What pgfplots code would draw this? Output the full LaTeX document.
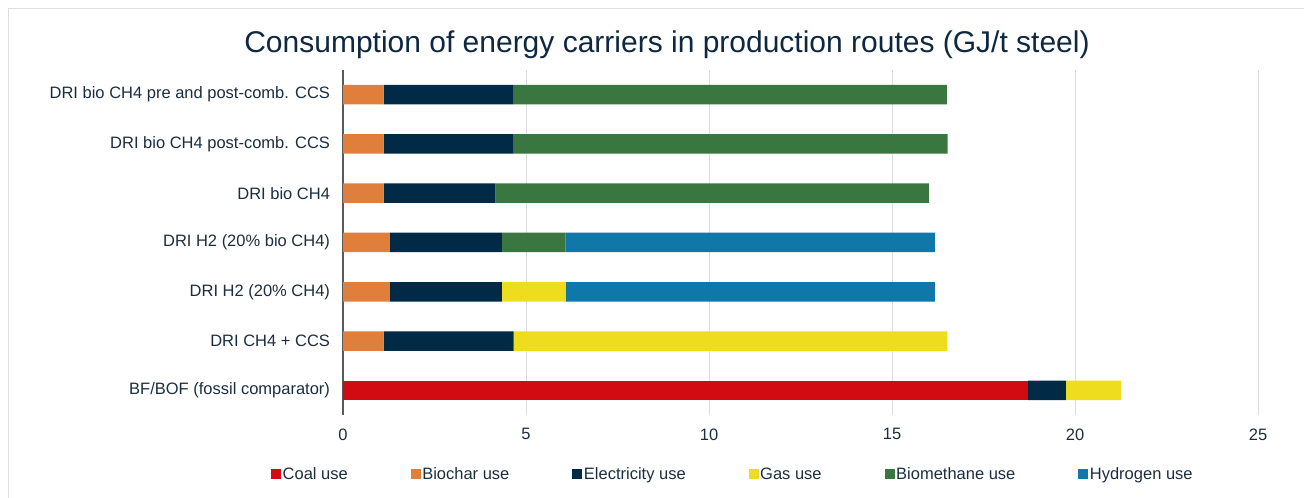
\documentclass[border=0pt]{standalone}
\usepackage{fontspec}
\setmainfont{Liberation Sans}
\usepackage{pgfplots}
\pgfplotsset{compat=1.18}
\definecolor{coalc}{HTML}{D20A11}
\definecolor{biocharc}{HTML}{E07F3C}
\definecolor{elecc}{HTML}{002A45}
\definecolor{gasc}{HTML}{EEDC1E}
\definecolor{biomc}{HTML}{3A7640}
\definecolor{hydc}{HTML}{0F78A8}
\definecolor{titlec}{HTML}{0E2841}
\definecolor{textc}{HTML}{1B2E40}
\definecolor{gridc}{HTML}{DCDCDC}
\definecolor{axisc}{HTML}{595959}
\begin{document}
\begin{tikzpicture}
\useasboundingbox (0,0) rectangle (1304bp,498bp);
\draw[gray!25, line width=1bp] (8bp,0) -- (8bp,489bp) -- (1304bp,489bp);
\node[font=\fontsize{30bp}{35bp}\selectfont, text=titlec] at (667bp,453bp) {Consumption of energy carriers in production routes (GJ/t steel)};
\begin{axis}[
  at={(343bp,83bp)}, anchor=south west,
  scale only axis, width=915bp, height=345bp,
  xbar stacked, bar width=19.5bp,
  xmin=0, xmax=25, ymin=-0.5, ymax=6.5,
  xtick={0,5,...,25}, ytick={0,...,6},
  yticklabels={BF/BOF (fossil comparator), DRI CH4 + CCS, DRI H2 (20\% CH4), DRI H2 (20\% bio CH4), DRI bio CH4, DRI bio CH4 post-comb. CCS, DRI bio CH4 pre and post-comb. CCS},
  axis line style={draw=none},
  major tick length=0pt,
  xmajorgrids, grid style={draw=gridc, line width=1bp},
  extra x ticks={0}, extra x tick labels={},
  extra x tick style={xmajorgrids=true, grid style={draw=axisc, line width=1.3bp}},
  tick label style={font=\fontsize{16.5bp}{19bp}\selectfont, text=textc},
  /pgf/number format/assume math mode=true,
  yticklabel style={xshift=-9.5bp},
  xticklabel style={yshift=-10bp},
  legend columns=6,
  legend style={at={(-0.0787,-0.171)}, anchor=west, draw=none, fill=none, inner sep=0pt,
    font=\fontsize{16.5bp}{19bp}\selectfont, text=textc,
    nodes={inner sep=1.5bp},
    /tikz/every odd column/.append style={column sep=0bp},
    /tikz/every even column/.append style={column sep=61.5bp}},
  seg/.style={fill=#1, draw=none, legend image code/.code={\fill[#1] (0bp,-5bp) rectangle (10bp,5bp);}},
]
\addplot[seg=coalc] coordinates {(18.72,0) (0,1) (0,2) (0,3) (0,4) (0,5) (0,6)};
\addlegendentry{Coal use}
\addplot[seg=biocharc] coordinates {(0,0) (1.11,1) (1.28,2) (1.28,3) (1.11,4) (1.11,5) (1.11,6)};
\addlegendentry{Biochar use}
\addplot[seg=elecc] coordinates {(1.03,0) (3.55,1) (3.06,2) (3.06,3) (3.05,4) (3.55,5) (3.55,6)};
\addlegendentry{Electricity use}
\addplot[seg=gasc] coordinates {(1.50,0) (11.85,1) (1.74,2) (0,3) (0,4) (0,5) (0,6)};
\addlegendentry{Gas use}
\addplot[seg=biomc] coordinates {(0,0) (0,1) (0,2) (1.74,3) (11.85,4) (11.86,5) (11.84,6)};
\addlegendentry{Biomethane use}
\addplot[seg=hydc] coordinates {(0,0) (0,1) (10.09,2) (10.09,3) (0,4) (0,5) (0,6)};
\addlegendentry{Hydrogen use}
\end{axis}
\end{tikzpicture}
\end{document}
